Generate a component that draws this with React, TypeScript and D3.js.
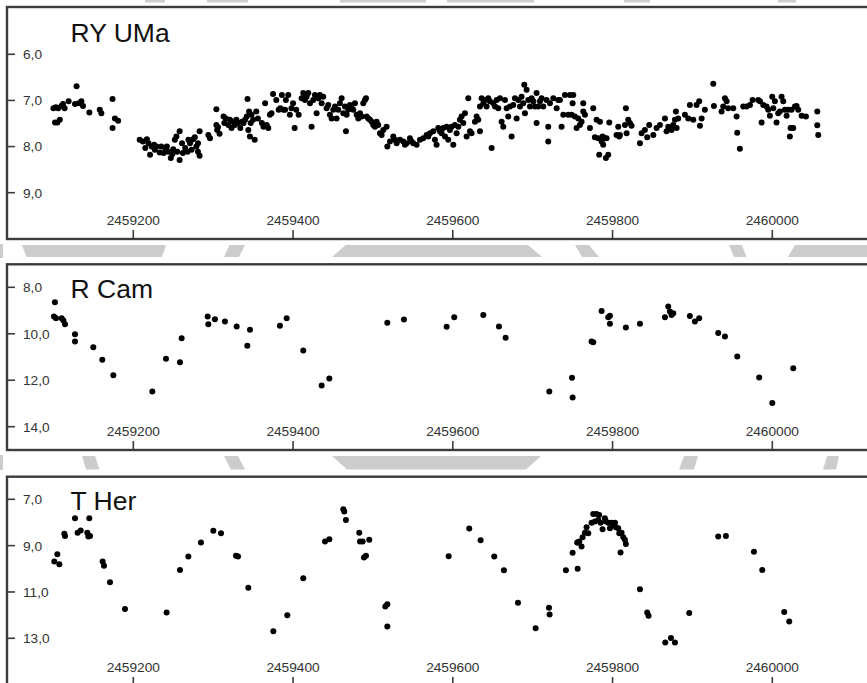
import React from "react";
import * as d3 from "d3";

const JD0 = 2459000;
const xTicks = [2459200, 2459400, 2459600, 2459800, 2460000];

const starNames = ["RY UMa", "R Cam", "T Her"];
const ryUmaTicks = [6, 7, 8, 9];
const rCamTicks = [8, 10, 12, 14];
const tHerTicks = [7, 9, 11, 13];

// [JD - 2459000, magnitude]
const ryUmaData: [number, number][] = [
  [100,7.17],[103,7.15],[106,7.17],[102,7.48],[105,7.48],[108,7.42],[110,7.12],[112,7.08],[114,7.17],[119,7.02],
  [127,7.08],[129,6.69],[132,7.06],[135,7.02],[137,7.12],[145,7.26],[158,7.2],[160,7.28],[174,6.97],[174,7.6],
  [177,7.39],[181,7.44],
  [208,7.85],[212,7.89],[217,7.84],[215,8.03],[219,7.93],[221,8.18],[223,8.0],[226,7.96],[227,8.07],[229,8.0],
  [233,8.13],[235,8.0],[238,8.14],[240,8.03],[242,8.0],[244,8.11],[247,8.25],[249,8.16],[250,8.06],[252,7.85],
  [254,7.78],[255,8.11],[258,8.29],[258,7.67],[261,7.93],[262,8.14],[265,8.03],[268,8.11],[269,7.85],[271,7.93],
  [273,8.07],[275,7.84],[277,7.8],[279,8.0],[281,8.11],[283,8.2],[283,7.67],[281,7.93],
  [294,7.75],[296,7.82],[304,7.19],[304,7.53],[305,7.64],[306,7.58],[308,7.72],
  [313,7.35],[314,7.49],[316,7.39],[319,7.53],[321,7.42],[323,7.6],[325,7.46],[327,7.53],[329,7.42],[331,7.49],
  [334,7.6],[336,7.46],[338,7.49],[340,7.42],[342,7.35],[343,6.97],[344,7.64],[345,7.24],[346,7.78],[347,7.49],
  [348,7.31],[350,7.42],[352,7.85],[354,7.24],[356,7.39],[361,7.49],[363,7.57],[365,7.06],[367,7.53],[369,7.6],
  [371,7.31],[373,7.28],[375,6.86],[379,6.99],[382,7.2],[384,7.17],[386,6.88],[388,7.2],[390,7.2],[391,6.99],
  [394,6.88],[396,7.31],[398,7.17],[400,7.06],[402,7.6],[404,7.2],[407,7.31],
  [410.7,6.95],[412.8,6.84],[414.9,6.99],[417,6.92],[419.1,6.84],[421.2,7.06],[423.2,7.57],[425.3,6.99],[427.4,6.88],
  [429.5,7.28],[431.6,6.95],[433.7,6.88],[435.8,7.06],[437.8,6.92],[442,7.17],[444.1,7.1],[446.2,7.31],[448.3,7.39],
  [450.4,7.2],[452.5,7.13],[454.5,7.39],[456.6,7.2],[458.7,7.06],[460.8,6.95],[462.9,7.28],[465,7.13],[466.2,7.67],
  [467.1,7.31],[469.1,7.2],[471.2,7.1],[473.3,7.17],[475.4,7.2],[477.5,7.06],[479.6,7.31],[481.7,7.39],[483.8,7.28],
  [485.8,7.35],[487.9,7.06],[490,6.99],[491.3,6.95],[492.1,7.35],[494.2,7.39],[496.3,7.42],[498.4,7.46],[500.4,7.53],
  [502.5,7.57],[504.6,7.46],[506.7,7.53],[508.8,7.71],[510.9,7.75],[513,7.64],[517.1,7.57],[518,8.0],[521.3,7.89],
  [525.5,7.78],[527.6,7.85],[529.7,7.93],[533.8,7.85],[538,7.89],[540.1,7.96],[542.2,7.93],[546.3,7.82],[548.4,7.89],
  [550.5,7.93],[554.7,7.96],[558.9,7.85],[563,7.82],[567.2,7.75],[569.3,7.78],[571.4,7.71],[575.6,7.67],[577.6,7.85],
  [579.7,7.96],[581.8,7.6],[583.9,7.67],[586,7.71],[588.1,7.6],[590.2,7.78],[592.3,7.57],[594.3,7.85],[596.4,7.64],
  [598.5,7.57],[600.6,7.96],[602.7,7.53],[604.8,7.71],[606.9,7.57],[608.9,7.42],[611,7.35],[613.1,7.49],[615.2,7.28],
  [617.3,7.78],[619.4,6.95],[621.5,7.67],[623.5,7.71],[627.7,7.46],[629.8,7.35],[631.9,7.42],[634,7.13],[634,7.67],
  [636.1,6.95],[638.2,7.06],[640.2,6.99],[642.3,7.13],[644.4,6.95],[646.5,7.02],[648.6,8.03],[650.7,7.06],[652.8,7.13],
  [654.9,6.99],[656.9,7.17],[659,6.95],[661.1,7.46],[663.2,7.57],[665.3,6.99],[667.4,7.17],[669.4,7.35],[671.5,7.13],
  [673.6,7.78],[675.7,7.1],[677.8,6.95],[679.9,7.39],[682,6.99],[684.1,7.13],[686.1,6.92],[688.2,7.06],[689.5,6.66],
  [690.3,7.28],[692.4,6.77],[694.5,6.99],[696.6,7.13],[698.7,6.95],[700.8,7.02],[702.8,7.13],[704.9,6.84],[704.9,7.49],
  [707,7.13],[709.1,7.02],[711.2,6.95],[713.3,7.13],[717.4,6.99],[719.5,7.57],[719.5,7.89],[721.6,7.06],[725.8,6.95],
  [730,7.17],[732,6.99],
  [734.1,6.99],[736.2,7.57],[738.3,7.31],[740.4,6.88],[744.5,7.31],[746.6,6.88],[748.7,7.31],[750,7.06],[750.8,6.88],
  [752.9,7.35],[755,7.6],[757.1,7.39],[759.1,7.53],[761.2,7.46],[763.3,7.06],[763.3,7.24],[765.4,7.31],[771.7,7.6],
  [775.8,7.17],[777.9,7.8],[780,7.42],[782.1,7.82],[783.3,8.18],[784.2,7.46],[786.3,7.89],[787.5,7.78],[788.3,7.96],
  [790.4,7.82],[791.7,8.25],[792.5,7.82],[794.6,8.18],[795.9,7.48],[805,7.75],[807.1,7.57],[808.4,7.78],[809.2,7.75],
  [815.5,7.53],[816.7,7.17],[817.6,7.71],[819.6,7.42],[821.7,7.49],[823.8,7.55],[834.3,7.93],[836.3,7.71],[840.5,7.64],
  [843.4,7.8],[845.9,7.53],[851,7.75],[855.1,7.6],[859.3,7.53],[865.6,7.39],[867.6,7.67],[869.7,7.57],[871.8,7.6],
  [873.9,7.64],[876,7.53],[878.1,7.42],[879.3,7.24],[880.2,7.6],[882.2,7.39],[890.6,7.31],[894.8,7.39],[896.8,7.1],
  [901,7.42],[905.2,7.1],[908.5,7.02],[909.4,7.55],[911.5,7.39],[915.6,7.2],[926.1,6.64],[926.9,7.12],[936.5,7.24],
  [938.6,7.13],[940.7,6.95],[942.8,7.02],[944.8,7.17],[951.1,7.17],[955.3,7.35],[956.1,7.7],[959.4,8.05],[963.6,7.13],
  [967.8,7.13],[972,7.1],[975.3,6.99],[982.4,6.99],[984.5,7.02],[986.6,7.48],[988.7,7.1],[992.8,7.13],[994.9,7.2],
  [997,7.33],[999.9,6.92],[1001.2,7.17],[1003.2,7.02],[1005.3,7.48],[1007.4,7.28],[1009.5,7.24],[1011.6,6.92],
  [1013.7,7.02],[1015.8,7.2],[1017.9,7.33],[1020,7.2],[1022,7.78],[1022.9,7.6],[1024.1,7.2],[1026.2,7.6],[1028.3,7.13],
  [1030.4,7.12],[1032.5,7.2],[1036.7,7.33],[1042.1,7.35],[1056.3,7.24],[1056.3,7.54],[1057.5,7.75],
];

const rCamData: [number, number][] = [
  [101.9,8.64],[100.7,9.26],[103.2,9.33],[110.3,9.33],[112.5,9.43],[114.5,9.59],[127,10.02],[127,10.33],[149.9,10.58],
  [161.2,11.12],[175,11.79],[223.8,12.48],[240.9,11.08],[258.4,11.23],[260.5,10.19],[293.1,9.26],[293.9,9.59],
  [302.2,9.37],[314.7,9.47],[329.4,9.69],[342.7,10.52],[346.1,9.83],[383.6,9.65],[392,9.33],
  [412.8,10.72],[435.8,12.23],[445.4,11.93],[518,9.53],[538.8,9.39],[592.3,9.7],[601.8,9.29],[638.2,9.19],[657.8,9.69],
  [666.1,10.17],[720.8,12.48],[749.2,11.89],[750,12.74],
  [773.7,10.33],[775.8,10.37],[786.3,9.02],[794.6,9.29],[796.7,9.22],[796.7,9.57],[816.7,9.73],[834.3,9.57],
  [865.6,9.29],[869.7,8.83],[871.8,9.04],[873.9,9.19],[876,9.12],[896.8,9.23],[903.1,9.47],[908.5,9.33],[932.3,9.97],
  [940.7,10.12],[956.1,10.98],[983.6,11.88],[1000,12.98],[1026.2,11.48],
];

const tHerData: [number, number][] = [
  [101.1,9.69],[104.9,9.37],[107.4,9.8],[113.6,8.49],[114.5,8.58],[127,7.82],[130.3,8.44],[134.1,8.35],[142.4,8.44],
  [143.7,8.61],[144.9,7.82],[145.8,8.58],[161.6,9.69],[163.3,9.87],[170.8,10.58],[189.6,11.73],[241.7,11.89],
  [258.4,10.05],[268.9,9.47],[284.7,8.87],[300.2,8.36],[309.8,8.47],[328.6,9.44],[331.1,9.47],[344,10.82],
  [375.3,12.7],[392.8,12.01],
  [412.8,10.41],[440,8.82],[445.4,8.72],[462.9,7.43],[464.1,7.53],[466.2,7.89],[482.9,8.44],[483.8,8.82],[487.1,8.82],
  [495.4,8.75],[488.8,9.51],[491.3,9.44],[515.5,11.63],[518,11.53],[518,12.49],[594.8,9.46],[620.6,8.26],[634.8,8.77],
  [651.9,9.47],[664,10.06],[681.6,11.47],[703.7,12.57],[720.4,11.68],[721.2,11.97],[741.6,10.06],[750,9.31],
  [756.3,8.87],[756.3,10.0],
  [755.8,8.87],[758.3,8.82],[761.2,9.04],[762.5,8.64],[765.4,8.44],[767.5,8.21],[769.6,8.47],[773.7,8.01],[775.8,7.63],
  [777.9,7.96],[780,7.63],[782.1,7.89],[783.3,7.68],[785,8.01],[787.5,8.29],[790.4,7.82],[791.7,7.96],[794.6,8.01],
  [796.7,8.25],[798.8,8.01],[800.9,8.11],[803,8.01],[804.2,8.21],[807.1,8.25],[808.4,8.47],[811.3,8.44],[813.4,8.64],
  [815.5,8.75],[816.7,8.93],[810,9.3],[834.3,10.88],[843.4,11.89],[845.1,12.03],[866,13.18],[873.1,12.99],[878.1,13.18],
  [896,11.91],[932.3,8.61],[941.9,8.58],[977,9.26],[987.4,10.05],[1014.9,11.87],[1021.2,12.27],
];

// decorative background watermark fragments (pixel polygons)
const watermark: [number, number][][] = [
  [[22,245],[166,245],[162,257],[26.5,257]],
  [[229.5,245],[245,245],[239,257],[224,257]],
  [[345.6,245],[528,245],[542,257],[332,257]],
  [[575,245],[589,245],[599,257],[582,257]],
  [[729,245],[742,245],[746.5,257],[734,257]],
  [[795,245],[870,245],[870,257],[788,257]],
  [[82,456],[95,456],[99.5,469.5],[86,469.5]],
  [[224,456],[238,456],[245,469.5],[231,469.5]],
  [[332,456],[541,456],[526,469.5],[347,469.5]],
  [[684,456],[698,456],[694,469.5],[679,469.5]],
  [[827,456],[839,456],[836,469.5],[823,469.5]],
  [[145,0],[165,0],[165,2.5],[145,2.5]],
  [[207,0],[248,0],[248,2.5],[207,2.5]],
  [[340,0],[426,0],[426,2.5],[340,2.5]],
  [[447,0],[534,0],[534,2.5],[447,2.5]],
  [[624,0],[650,0],[650,2.5],[624,2.5]],
  [[778,0],[796,0],[796,2.5],[778,2.5]],
  [[0,244],[3,244],[3,258],[0,258]],
  [[0,455],[3,455],[3,470],[0,470]],
];

const W = 867;
const H = 683;
const FRAME_LEFT = 7;
const FRAME_RIGHT = 872;

const x = d3.scaleLinear().domain([2459200, 2460000]).range([133.3, 772.3]);

type Panel = {
  name: string;
  data: [number, number][];
  ticks: number[];
  top: number;
  bottom: number;
  y: d3.ScaleLinear<number, number>;
  titleY: number;
};

const panels: Panel[] = [
  {
    name: starNames[0], data: ryUmaData, ticks: ryUmaTicks, top: 7, bottom: 239,
    y: d3.scaleLinear().domain([6, 9]).range([54.3, 192.7]), titleY: 41.5,
  },
  {
    name: starNames[1], data: rCamData, ticks: rCamTicks, top: 264.3, bottom: 450,
    y: d3.scaleLinear().domain([8, 14]).range([287.3, 426.7]), titleY: 298.3,
  },
  {
    name: starNames[2], data: tHerData, ticks: tHerTicks, top: 476.7, bottom: 686,
    y: d3.scaleLinear().domain([7, 13]).range([499.3, 638.3]), titleY: 510,
  },
];

const fmt = (v: number) => v.toFixed(1).replace(".", ",");
const FONT = "'Liberation Sans', Arial, Helvetica, sans-serif";

export default function App() {
  return (
    <svg
      width={W}
      height={H}
      style={{ position: "absolute", left: 0, top: 0, background: "#fff" }}
    >
      <rect x={0} y={0} width={W} height={H} fill="#fff" />
      {watermark.map((pts, i) => (
        <polygon key={i} points={pts.map((p) => p.join(",")).join(" ")} fill="#cccccc" />
      ))}
      {panels.map((p, pi) => (
        <g key={pi}>
          <rect
            x={FRAME_LEFT}
            y={p.top}
            width={FRAME_RIGHT - FRAME_LEFT}
            height={p.bottom - p.top}
            fill="#fff"
            stroke="#3c3c3c"
            strokeWidth={2.4}
          />
          <text x={70.5} y={p.titleY} fontFamily={FONT} fontSize={26.5} fill="#111">
            {p.name}
          </text>
          {p.ticks.map((t) => (
            <g key={t}>
              <line x1={FRAME_LEFT} x2={FRAME_LEFT + 8} y1={p.y(t)} y2={p.y(t)} stroke="#3c3c3c" strokeWidth={1.6} />
              <text
                x={23}
                y={p.y(t)}
                dy="0.36em"
                fontFamily={FONT}
                fontSize={13.7}
                fill="#333"
              >
                {fmt(t)}
              </text>
            </g>
          ))}
          {xTicks.map((t) => (
            <g key={t}>
              <line x1={x(t)} x2={x(t)} y1={p.bottom - 9} y2={p.bottom} stroke="#3c3c3c" strokeWidth={1.6} />
              <text
                x={x(t)}
                y={p.bottom - 19}
                dy="0.36em"
                textAnchor="middle"
                fontFamily={FONT}
                fontSize={13.7}
                fill="#333"
              >
                {t}
              </text>
            </g>
          ))}
          {p.data.map((d, i) => (
            <circle key={i} cx={x(JD0 + d[0])} cy={p.y(d[1])} r={3} fill="#000" />
          ))}
        </g>
      ))}
    </svg>
  );
}
